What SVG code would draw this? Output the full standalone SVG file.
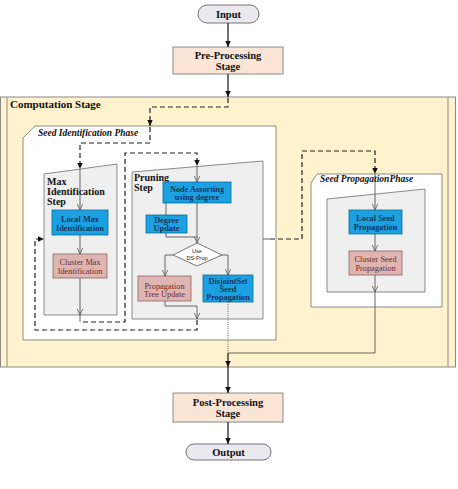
<svg xmlns="http://www.w3.org/2000/svg" width="458" height="489" viewBox="0 0 458 489">
<defs>
<style>
.t{font-family:"Liberation Serif",serif;font-weight:bold;fill:#111;text-anchor:middle}
.ti{font-family:"Liberation Serif",serif;font-weight:bold;font-style:italic;fill:#111}
.bl{fill:#1ba1e2;stroke:#0b6b96;stroke-width:0.8}
.bt{font-family:"Liberation Serif",serif;font-weight:bold;font-size:8.3px;fill:#16365c;text-anchor:middle}
.pk{fill:#dfb5b1;stroke:#8a6560;stroke-width:0.8}
.pt{font-family:"Liberation Serif",serif;font-size:8.3px;fill:#6b2d2d;text-anchor:middle}
.pan{fill:#efefef;stroke:#6f6f6f;stroke-width:0.8}
.ln{fill:none;stroke:#444;stroke-width:0.8}
.dash{fill:none;stroke:#222;stroke-width:1.2;stroke-dasharray:5,3}
.main{fill:none;stroke:#111;stroke-width:1.2}
</style>
<marker id="fa" viewBox="0 0 10 10" refX="10" refY="5" markerWidth="6" markerHeight="6" markerUnits="userSpaceOnUse" orient="auto"><path d="M0,0.5 L10,5 L0,9.5 z" fill="#111"/></marker>
<marker id="oa" viewBox="0 0 10 10" refX="10" refY="5" markerWidth="6" markerHeight="6" markerUnits="userSpaceOnUse" orient="auto"><path d="M0,0.5 L10,5 L0,9.5" fill="none" stroke="#555" stroke-width="1.3"/></marker>
</defs>

<g id="computation-stage">
<rect x="0.5" y="97" width="455" height="270" fill="#fff2cc" stroke="#8a8a8a" stroke-width="1"/>
<line x1="7" y1="97" x2="7" y2="367" stroke="#8a8a8a" stroke-width="1"/>
<line x1="448" y1="97" x2="448" y2="367" stroke="#8a8a8a" stroke-width="1"/>
<text class="ti" x="10" y="108" style="font-style:normal;font-size:11px">Computation Stage</text>
</g>

<g id="seed-identification-phase">
<polygon points="35,126 276,126 276,340 23,340 23,138" fill="#fff" stroke="#6f6f6f" stroke-width="0.8"/>
<text class="ti" x="38" y="136" font-size="9.5">Seed Identification Phase</text>
</g>

<g id="max-identification-step">
<polygon class="pan" points="44,174 117,164 117,315 44,315"/>
<text class="ti" x="47" y="185" font-size="10" style="font-style:normal">Max</text>
<text class="ti" x="47" y="195" font-size="10" style="font-style:normal">Identification</text>
<text class="ti" x="47" y="205" font-size="10" style="font-style:normal">Step</text>
</g>

<g id="pruning-step">
<polygon class="pan" points="132,172 263,161 263,319 132,319"/>
<text class="ti" x="134" y="181" font-size="10" style="font-style:normal">Pruning</text>
<text class="ti" x="134" y="191" font-size="10" style="font-style:normal">Step</text>
</g>

<g id="seed-propagation-phase">
<polygon points="317,174 442,174 442,307 311,307 311,183" fill="#fff" stroke="#6f6f6f" stroke-width="0.8"/>
<text class="ti" x="320" y="182" font-size="9.5">Seed PropagationPhase</text>
<polygon class="pan" points="327,199 425,189 425,292 327,292"/>
</g>

<g id="input">
<rect x="198" y="5" width="61" height="18" rx="9" fill="#e9e9ef" stroke="#666" stroke-width="0.9"/>
<text class="t" x="228.5" y="17.5" font-size="10.5">Input</text>
</g>

<g id="pre-processing">
<rect x="173" y="47" width="110" height="27" fill="#fbe5d6" stroke="#7f7f7f" stroke-width="0.9"/>
<text class="t" x="228" y="58.5" font-size="10.5">Pre-Processing</text>
<text class="t" x="228" y="69.5" font-size="10.5">Stage</text>
</g>

<g id="local-max">
<rect class="bl" x="52" y="210" width="56" height="25"/>
<text class="bt" x="80" y="222">Local Max</text>
<text class="bt" x="80" y="230.5">Identification</text>
</g>

<g id="cluster-max">
<rect class="pk" x="53" y="254" width="54" height="24"/>
<text class="pt" x="80" y="265">Cluster Max</text>
<text class="pt" x="80" y="274">Identification</text>
</g>

<g id="node-assorting">
<rect class="bl" x="163" y="182" width="68" height="21"/>
<text class="bt" x="197" y="192">Node Assorting</text>
<text class="bt" x="197" y="200">using degree</text>
</g>

<g id="degree-update">
<rect class="bl" x="146" y="215" width="41" height="18"/>
<text class="bt" x="166.5" y="223">Degree</text>
<text class="bt" x="166.5" y="231">Update</text>
</g>

<g id="use-ds-prop">
<polygon points="197,243 222,255 197,266 173,255" fill="#fff" stroke="#555" stroke-width="0.8"/>
<text x="197" y="252.5" font-family="Liberation Sans,sans-serif" font-size="5.5" fill="#222" text-anchor="middle">Use</text>
<text x="197" y="259.5" font-family="Liberation Sans,sans-serif" font-size="5.5" fill="#222" text-anchor="middle">DS-Prop</text>
</g>

<g id="propagation-tree-update">
<rect class="pk" x="138" y="276" width="53" height="25"/>
<text class="pt" x="164.5" y="288.5">Propagation</text>
<text class="pt" x="164.5" y="297">Tree Update</text>
</g>

<g id="disjointset">
<rect class="bl" x="203" y="275" width="50" height="27"/>
<text class="bt" x="228" y="283.5">DisjointSet</text>
<text class="bt" x="228" y="291.5">Seed</text>
<text class="bt" x="228" y="299.5">Propagation</text>
</g>

<g id="local-seed">
<rect class="bl" x="349" y="210" width="53" height="24"/>
<text class="bt" x="375.5" y="221">Local Seed</text>
<text class="bt" x="375.5" y="229.5">Propagation</text>
</g>

<g id="cluster-seed">
<rect class="pk" x="349" y="251" width="53" height="24"/>
<text class="pt" x="375.5" y="262">Cluster Seed</text>
<text class="pt" x="375.5" y="270.5">Propagation</text>
</g>

<g id="post-processing">
<rect x="173" y="393" width="110" height="29" fill="#fbe5d6" stroke="#7f7f7f" stroke-width="0.9"/>
<text class="t" x="228" y="406" font-size="10.5">Post-Processing</text>
<text class="t" x="228" y="417" font-size="10.5">Stage</text>
</g>

<g id="output">
<rect x="186" y="444" width="85" height="16" rx="8" fill="#e9e9ef" stroke="#666" stroke-width="0.9"/>
<text class="t" x="228.5" y="456" font-size="10.5">Output</text>
</g>

<g id="connectors">
<path class="main" d="M228,23 V47" marker-end="url(#fa)"/>
<path class="main" d="M228,74 V97" marker-end="url(#fa)"/>
<path class="dash" d="M228,98 V107 H150 V126" marker-end="url(#fa)"/>
<path class="dash" d="M150,127 V143 H80 V169" marker-end="url(#fa)"/>
<path class="ln" d="M80,169 V210" marker-end="url(#oa)"/>
<path class="ln" d="M80,235 V254" marker-end="url(#oa)"/>
<path class="ln" d="M80,278 V315" marker-end="url(#oa)"/>
<path class="ln" d="M80,315 V322"/>
<path class="dash" d="M83,322 H125 V153 H197 V166" marker-end="url(#fa)"/>
<path class="ln" d="M197,166 V182" marker-end="url(#oa)"/>
<path class="ln" d="M197,203 V243" marker-end="url(#oa)"/>
<path class="ln" d="M166,203 V215"/>
<path class="ln" d="M166,233 V237 H197"/>
<path class="ln" d="M173,255 H165 V276" marker-end="url(#oa)"/>
<path class="ln" d="M222,255 H228 V275" marker-end="url(#oa)"/>
<path class="ln" d="M165,301 V306 H197 V319" marker-end="url(#oa)"/>
<path class="dash" d="M197,320 V330 H35 V239 H44" marker-end="url(#fa)"/>
<path class="ln" d="M263,239 H270"/>
<path class="dash" d="M270,239 H302 V151 H375 V174" marker-end="url(#fa)"/>
<path class="ln" d="M375,174 V210" marker-end="url(#oa)"/>
<path class="ln" d="M375,234 V251" marker-end="url(#oa)"/>
<path class="ln" d="M375,275 V292" marker-end="url(#oa)"/>
<path class="ln" d="M375,292 V353 H228"/>
<path class="ln" d="M228,302 V353" style="stroke-dasharray:1,1.2"/>
<path class="main" d="M228,353 V367" marker-end="url(#fa)"/>
<path class="main" d="M228,367 V393" marker-end="url(#fa)"/>
<path class="main" d="M228,422 V444" marker-end="url(#fa)"/>
</g>
</svg>
